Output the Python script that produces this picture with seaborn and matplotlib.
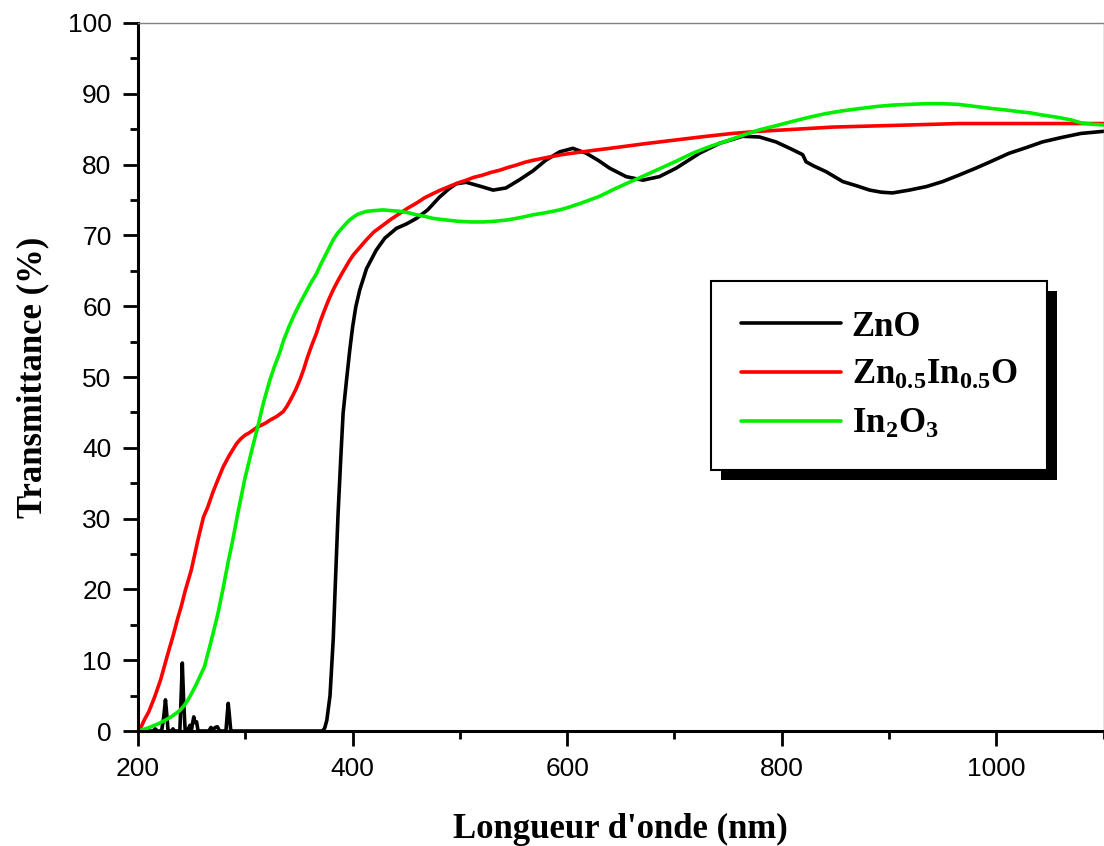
import numpy as np
import pandas as pd
import matplotlib
matplotlib.use("Agg")
import matplotlib.pyplot as plt
from matplotlib.patches import Rectangle
from matplotlib.ticker import MultipleLocator
import seaborn as sns

# ---------------- data ----------------
zno_x = [200, 214, 216, 218, 222, 224, 225.6, 227, 228, 231, 232.6, 234, 239, 240, 241.3,
         242.6, 244, 246, 248.4, 250, 251, 252, 253, 254.6, 256, 266, 268, 270, 272, 274,
         276, 282, 283, 284.1, 285.3, 286.5, 300, 372, 374, 376, 379, 382, 384, 386.5,
         389, 391.2, 394.4, 397.4, 400, 403, 406.7, 413, 422, 430, 440.9, 450, 459.5, 470,
         481, 490, 496.8, 506, 520, 531, 543, 555, 568, 580, 593, 605.4, 617.9, 629,
         639.6, 655, 670.6, 686, 701.7, 723.4, 742, 763.7, 779.3, 794.8, 810.3, 819.6,
         822.7, 830, 841.4, 857, 870, 882, 893, 903.4, 919, 935, 950, 965, 981, 996,
         1012, 1028, 1043, 1060, 1078.9, 1100]
zno_y = [0, 0, 0.3, 0, 0, 2.0, 4.4, 2.0, 0, 0, 0.3, 0, 0, 4.0, 9.6,
         4.0, 0, 0, 0.8, 0.3, 1.2, 2.0, 1.2, 1.3, 0, 0, 0.5, 0.2, 0.5, 0.6,
         0, 0, 2.0, 3.9, 2.0, 0, 0, 0, 0.4, 1.5, 5.0, 13.0, 21.0, 30.7,
         38.5, 44.9, 49.6, 53.8, 57.0, 59.9, 62.3, 65.3, 67.9, 69.6, 71.0, 71.6, 72.4, 73.6,
         75.4, 76.6, 77.3, 77.5, 76.9, 76.4, 76.7, 77.8, 79.1, 80.6, 81.8, 82.3, 81.6, 80.6,
         79.5, 78.3, 77.8, 78.3, 79.5, 81.6, 83.0, 84.0, 83.9, 83.2, 82.1, 81.4,
         80.4, 79.8, 79.0, 77.6, 77.0, 76.4, 76.1, 76.0, 76.4, 76.9, 77.6, 78.5, 79.5, 80.5,
         81.6, 82.4, 83.2, 83.8, 84.4, 84.7]

zio_x = [200, 203, 206, 210, 215.5, 221, 228, 233, 237, 240.3, 244, 249.6, 255.9,
         261, 265.2, 270, 274.5, 279.4, 285, 291.9, 296, 300, 303.5, 307.4, 311, 315, 319,
         323, 329, 335.3, 339, 343, 347, 350.9, 354.5, 358, 362, 366.4, 370, 374, 378,
         381.9, 386, 390, 393.5, 397.4, 401, 405, 409, 413, 420, 428, 436, 444, 452, 460,
         467, 475, 482, 490, 498, 506, 513, 521, 529, 537, 545, 552, 560, 568, 581, 595,
         609, 624, 640, 655, 670, 686, 708, 730, 754, 779, 802, 825, 848, 872, 896, 920,
         943, 965, 992, 1020, 1040, 1060, 1080, 1100]
zio_y = [0, 0.6, 1.6, 2.7, 4.8, 7.2, 11.0, 13.6, 15.9, 17.6, 19.8, 22.7, 27.0,
         30.2, 31.7, 33.8, 35.5, 37.3, 38.9, 40.6, 41.3, 41.8, 42.1, 42.5, 42.9, 43.2, 43.5,
         43.9, 44.4, 45.1, 45.9, 47.0, 48.2, 49.6, 51.1, 52.8, 54.5, 56.2, 57.9, 59.5, 61.0,
         62.3, 63.5, 64.6, 65.5, 66.5, 67.3, 68.0, 68.7, 69.4, 70.5, 71.4, 72.3, 73.1, 73.9, 74.6,
         75.3, 75.9, 76.4, 76.9, 77.4, 77.8, 78.2, 78.5, 78.9, 79.2, 79.6, 79.9, 80.3, 80.6, 81.0, 81.4,
         81.7, 82.0, 82.3, 82.6, 82.9, 83.2, 83.6, 84.0, 84.4, 84.7, 84.9, 85.1, 85.3, 85.4, 85.5, 85.6,
         85.7, 85.8, 85.8, 85.8, 85.8, 85.8, 85.8, 85.8]

ino_x = [200, 209, 220, 231, 239, 243, 246.6, 251, 254.7, 258, 262, 264, 267, 270, 274.5,
         279.4, 283.8, 288, 293, 299.4, 306, 312, 317, 323, 327, 332,
         336, 341, 346, 350.9, 354.5, 358, 362, 366.4, 370, 374, 378, 382, 386, 390,
         393.5, 397.4, 401, 405, 409, 413, 420, 428.5, 436, 444, 452, 460, 467, 475,
         486, 498, 510, 521.6, 533, 545, 556, 568, 580, 593, 602, 612, 621, 630, 642, 655,
         670, 686, 702, 717, 732, 748, 763, 779, 795, 810, 826, 841, 857, 872, 888, 903,
         918, 934, 950, 965, 981, 997, 1010, 1020, 1032, 1043, 1052, 1060, 1070, 1079,
         1090, 1100]
ino_y = [0, 0.4, 1.1, 2.0, 2.9, 3.6, 4.4, 5.6, 6.7, 7.8, 9.1, 10.3, 12.0, 13.8, 16.6,
         20.2, 23.7, 26.7, 30.7, 35.5, 39.6, 43.2, 46.4, 49.6, 51.4, 53.4,
         55.3, 57.2, 58.9, 60.4, 61.4, 62.4, 63.5, 64.6, 65.8, 67.0, 68.2, 69.4, 70.3, 71.0,
         71.6, 72.2, 72.6, 73.0, 73.2, 73.4, 73.5, 73.6, 73.5, 73.4, 73.2, 72.9, 72.7, 72.4,
         72.2, 72.0, 71.9, 71.9, 72.0, 72.2, 72.5, 72.9, 73.2, 73.6, 74.0, 74.5, 75.0, 75.5, 76.4, 77.3,
         78.3, 79.4, 80.5, 81.6, 82.5, 83.3, 84.1, 84.9, 85.5, 86.1, 86.7, 87.2, 87.6, 87.9, 88.2, 88.4,
         88.5, 88.6, 88.6, 88.5, 88.2, 87.9, 87.7, 87.5, 87.3, 87.0, 86.8, 86.6, 86.3, 85.9,
         85.7, 85.6]

series_names = ["ZnO", "Zn0.5In0.5O", "In2O3"]
legend_labels = ["ZnO", r"Zn$_{0.5}$In$_{0.5}$O", r"In$_{2}$O$_{3}$"]
colors = ["#000000", "#ff0000", "#00ee00"]

x_ticks = [200, 400, 600, 800, 1000]
y_ticks = [0, 10, 20, 30, 40, 50, 60, 70, 80, 90, 100]

# ---------------- build table ----------------
frames = []
for name, xs, ys in zip(series_names, [zno_x, zio_x, ino_x], [zno_y, zio_y, ino_y]):
    frames.append(pd.DataFrame({"wl": xs, "T": ys, "sample": name}))
df = pd.concat(frames, ignore_index=True)

# ---------------- style ----------------
sns.set_style("white")
plt.rcParams["font.family"] = ["Liberation Sans", "DejaVu Sans"]
plt.rcParams["text.color"] = "black"
plt.rcParams["axes.labelcolor"] = "black"
plt.rcParams["xtick.color"] = "black"
plt.rcParams["ytick.color"] = "black"
plt.rcParams["mathtext.fontset"] = "custom"
plt.rcParams["mathtext.rm"] = "Liberation Serif:bold"
plt.rcParams["mathtext.it"] = "Liberation Serif:bold"
plt.rcParams["mathtext.bf"] = "Liberation Serif:bold"

fig = plt.figure(figsize=(11.04, 8.46), dpi=100)
ax = fig.add_axes([138 / 1104, 115 / 846, 965.5 / 1104, 708 / 846])

sns.lineplot(data=df, x="wl", y="T", hue="sample", hue_order=series_names,
             palette=dict(zip(series_names, colors)), sort=False, estimator=None,
             linewidth=2.6, legend=False, ax=ax)

ax.set_xlim(200, 1100)
ax.set_ylim(0, 100)
ax.set_xticks(x_ticks)
ax.set_yticks(y_ticks)
ax.xaxis.set_minor_locator(MultipleLocator(100))
ax.yaxis.set_minor_locator(MultipleLocator(5))
ax.tick_params(axis="both", which="both", bottom=True, left=True, top=False, right=False)
ax.tick_params(axis="both", which="major", direction="out", length=11, width=2,
               labelsize=19, color="black", labelcolor="black", pad=8)
ax.tick_params(axis="both", which="minor", direction="out", length=6, width=2, color="black")

for s in ["left", "bottom"]:
    ax.spines[s].set_linewidth(2.2)
    ax.spines[s].set_color("black")
for s in ["top", "right"]:
    ax.spines[s].set_linewidth(1.0)
    ax.spines[s].set_color("#808080")

ax.set_xlabel("Longueur d'onde (nm)", fontfamily="Liberation Serif", fontweight="bold",
              fontsize=25, labelpad=23, color="black")
ax.set_ylabel("Transmittance (%)", fontfamily="Liberation Serif", fontweight="bold",
              fontsize=25, labelpad=13, color="black")

handles = ax.get_lines()[:3]
leg = ax.legend(handles, legend_labels, loc="upper left",
                bbox_to_anchor=((711 - 138) / 965.5, (731 - 281) / 708),
                prop={"family": "Liberation Serif", "weight": "bold", "size": 25},
                frameon=True, fancybox=False, edgecolor="black", framealpha=1,
                handlelength=2.9, handletextpad=0.3, borderpad=0.85, labelspacing=0.45,
                borderaxespad=0.0)
leg.get_frame().set_linewidth(1.5)
leg.set_zorder(6)
for t in leg.get_texts():
    t.set_color("black")

# drop shadow behind the legend box
fig.canvas.draw()
bb = leg.get_frame().get_window_extent()
inv = ax.transAxes.inverted()
(x0, y0) = inv.transform((bb.x0 + 10, bb.y0 - 10))
(x1, y1) = inv.transform((bb.x1 + 10, bb.y1 - 10))
shadow = Rectangle((x0, y0), x1 - x0, y1 - y0, transform=ax.transAxes,
                   facecolor="black", edgecolor="none", zorder=5.5, clip_on=False)
ax.add_patch(shadow)

fig.savefig("out.png", dpi=100)
